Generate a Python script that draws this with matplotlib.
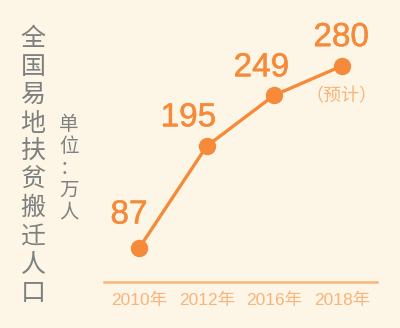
import matplotlib
matplotlib.use("Agg")
import matplotlib.pyplot as plt
import matplotlib.patheffects as pe

# data
years = ["2010年", "2012年", "2016年", "2018年"]
values = [87, 195, 249, 280]
value_labels = ["87", "195", "249", "280"]
note = "（预计）"
title = "全国易地扶贫搬迁人口"
unit = "单位：万人"

BG = "#FDF5E5"
ORANGE = "#F58B3A"
LIGHT = "#F8B47A"
GRAY = "#7C8080"
NUM_FONT = ["Liberation Sans Narrow", "Liberation Sans", "Noto Sans CJK SC"]
CJK_FONT = ["Noto Sans CJK SC", "DejaVu Sans"]


def main():
    fig = plt.figure(figsize=(4.0, 3.28), dpi=100)
    fig.patch.set_facecolor(BG)
    W, H = 400, 328
    # axes: x 104..377 px, y 20..282 px (from top)
    ax = fig.add_axes([104 / W, 1 - 282 / H, (377 - 104) / W, (282 - 20) / H])
    ax.set_facecolor(BG)

    x = list(range(len(values)))
    ax.plot(x, values, color=ORANGE, lw=2.4, marker="o", ms=11.5,
            mfc=ORANGE, mec=ORANGE, solid_capstyle="round", zorder=3)
    ax.set_xlim(-0.52, 3.52)
    ax.set_ylim(51, 328.7)

    # value labels
    bold = [pe.withStroke(linewidth=0.35, foreground=ORANGE)]
    offsets = [(-0.15, 35), (-0.27, 30), (-0.19, 29), (-0.01, 30)]
    for xi, v, lab, (dx, dy) in zip(x, values, value_labels, offsets):
        ax.text(xi + dx, v + dy, lab, ha="center", va="center",
                fontsize=24, color=ORANGE, family=NUM_FONT, path_effects=bold)
    ax.text(3 - 0.01, values[3] - 32, note, ha="center", va="center",
            fontsize=13, color=LIGHT, family=CJK_FONT)

    for s in ["top", "right", "left"]:
        ax.spines[s].set_visible(False)
    ax.spines["bottom"].set_color(LIGHT)
    ax.spines["bottom"].set_linewidth(1.8)
    ax.set_yticks([])
    ax.set_xticks(x)
    ax.set_xticklabels(years, color=LIGHT, fontsize=12.5)
    for t in ax.get_xticklabels():
        t.set_family(NUM_FONT)
    ax.tick_params(axis="x", length=0, pad=8)

    # vertical title
    for i, ch in enumerate(title):
        fig.text(33 / W, 1 - (39 + i * 28.2) / H, ch, ha="center", va="center",
                 fontsize=18, color=GRAY, family=CJK_FONT)
    for i, ch in enumerate(unit):
        fig.text(69 / W, 1 - (125 + i * 21.8) / H, ch, ha="center", va="center",
                 fontsize=14, color=GRAY, family=CJK_FONT)

    fig.savefig("out.png", dpi=100, facecolor=BG)


if __name__ == "__main__":
    main()
